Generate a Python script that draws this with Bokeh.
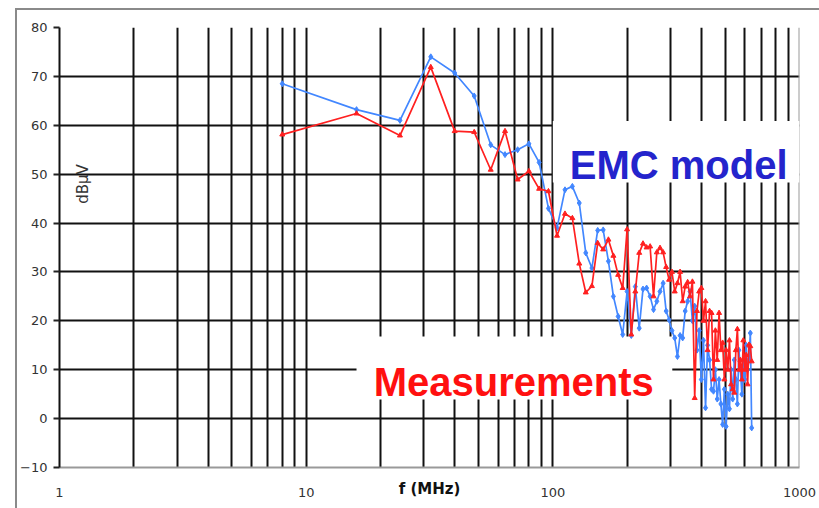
import math
from bokeh.plotting import figure
from bokeh.models import Range1d, FixedTicker, PrintfTickFormatter, Label, ColumnDataSource, InlineStyleSheet
from bokeh.core.properties import value
from bokeh.embed import file_html
from bokeh.resources import INLINE

# ---------------- data ----------------
freq_mhz = [8, 16, 24, 32, 40, 48, 56, 64, 72, 80,
            88, 96, 104, 112, 120, 128, 136, 144, 152, 160,
            168, 176, 184, 192, 200, 208, 216, 224, 232, 240,
            248, 256, 264, 272, 280, 288, 296, 304, 312, 320,
            328, 336, 344, 352, 360, 368, 376, 384, 392, 400,
            408, 416, 424, 432, 440, 448, 456, 464, 472, 480,
            488, 496, 504, 512, 520, 528, 536, 544, 552, 560,
            568, 576, 584, 592, 600, 608, 616, 624, 632, 640]

emc_model = [68.5, 63.2, 61.0, 74.0, 70.7, 66.0, 56.0, 54.0, 55.0, 56.2,
             52.4, 43.0, 39.0, 46.8, 47.5, 44.1, 33.9, 30.8, 38.5, 38.6,
             32.2, 25.0, 20.9, 17.2, 26.0, 17.0, 27.0, 18.5, 26.5, 26.7,
             25.0, 22.3, 24.0, 26.0, 27.7, 22.0, 20.2, 18.0, 16.5, 12.7,
             17.0, 16.5, 22.0, 24.0, 26.0, 20.0, 23.0, 14.0, 18.0, 8.0,
             16.0, 2.2, 15.0, 12.0, 6.0, 5.6, 10.0, 4.0, 8.0, 3.0,
             -1.2, 6.0, -1.6, 5.0, 2.0, 10.0, 4.0, 12.0, 8.0, 3.0,
             14.0, 10.0, 5.0, 12.0, 8.0, 15.0, 10.0, 12.0, 17.5, -1.9]

measurements = [58.1, 62.4, 57.9, 71.9, 58.8, 58.6, 50.9, 58.8, 48.9, 50.6,
                47.0, 46.5, 37.4, 41.9, 41.0, 31.7, 25.8, 27.1, 35.9, 34.6,
                36.6, 33.3, 29.4, 26.7, 38.7, 17.2, 26.0, 33.9, 35.8, 35.0,
                35.2, 25.0, 34.0, 34.9, 34.0, 31.0, 28.4, 30.0, 26.0, 27.7,
                30.0, 24.0, 27.0, 27.9, 25.0, 28.0, 4.2, 22.0, 26.0, 26.7,
                20.0, 24.0, 14.0, 22.0, 21.6, 8.0, 18.0, 12.0, 21.6, 14.0,
                15.5, 8.0, 14.0, 10.0, 16.0, 7.0, 6.0, 5.3, 14.0, 18.3,
                10.0, 12.0, 8.0, 16.0, 10.0, 13.0, 7.0, 15.1, 14.8, 11.7]

x_ticks = [1, 10, 100, 1000]
x_minor_ticks = [2, 3, 4, 5, 6, 7, 8, 9,
                 20, 30, 40, 50, 60, 70, 80, 90,
                 200, 300, 400, 500, 600, 700, 800, 900]
y_ticks = [-10, 0, 10, 20, 30, 40, 50, 60, 70, 80]

series_labels = ["EMC model", "Measurements"]
x_title = "f (MHz)"
y_title = "dBµV"

# ---------------- figure ----------------
FONT = "Liberation Sans"
AXFONT = "DejaVu Sans"
border_css = InlineStyleSheet(css="""
:host::after {
  content: "";
  position: absolute;
  left: 15px;
  top: 8px;
  width: 804px;
  height: 500px;
  box-sizing: border-box;
  border-left: 2px solid #8a8a8a;
  border-top: 2px solid #8a8a8a;
  pointer-events: none;
  z-index: 10;
}
""")

p = figure(width=819, height=508, x_axis_type="log",
           x_range=Range1d(1, 1000), y_range=Range1d(-10, 80),
           output_backend="svg", toolbar_location=None,
           min_border_left=59, min_border_right=20, min_border_top=27, min_border_bottom=41)
p.stylesheets = [border_css]
p.background_fill_color = "white"
p.border_fill_color = "white"
p.outline_line_color = None

# axes
p.xaxis.ticker = FixedTicker(ticks=x_ticks, minor_ticks=x_minor_ticks)
p.xaxis.formatter = PrintfTickFormatter(format="%d")
p.xaxis.major_tick_out = 0
p.xaxis.major_tick_in = 0
p.xaxis.minor_tick_out = 0
p.xaxis.minor_tick_in = 0
p.xaxis.major_label_standoff = 20
p.xaxis.axis_line_color = "#999999"
p.xaxis.axis_line_width = 2
p.xaxis.axis_label = x_title
p.xaxis.axis_label_standoff = -20
p.xaxis.axis_label_text_font = AXFONT
p.xaxis.axis_label_text_font_style = "bold"
p.xaxis.axis_label_text_font_size = "15px"
p.xaxis.axis_label_text_color = "#111111"

p.yaxis.ticker = FixedTicker(ticks=y_ticks)
p.yaxis.major_tick_out = 6
p.yaxis.major_tick_in = 0
p.yaxis.minor_tick_out = 0
p.yaxis.minor_tick_in = 0
p.yaxis.major_tick_line_color = "#222222"
p.yaxis.major_tick_line_width = 2
p.yaxis.axis_line_color = "#111111"
p.yaxis.axis_line_width = 2
p.yaxis.major_label_standoff = 6

for ax in (p.xaxis, p.yaxis):
    ax.major_label_text_font = AXFONT
    ax.major_label_text_font_size = "13px"
    ax.major_label_text_color = "#333333"

# grids
p.xgrid.grid_line_color = "#111111"
p.xgrid.grid_line_width = 2
p.xgrid.minor_grid_line_color = "#111111"
p.xgrid.minor_grid_line_width = 2
p.ygrid.grid_line_color = "#111111"
p.ygrid.grid_line_width = 2

# right frame edge (gray)
p.segment(x0=[1000], y0=[-10], x1=[1000], y1=[80], line_color="#999999", line_width=2)

# white boxes behind the series labels
p.quad(left=[100], right=[1000], bottom=[48.3], top=[60.9],
       fill_color="white", line_color=None)
p.quad(left=[16], right=[305], bottom=[3.9], top=[16.8],
       fill_color="white", line_color=None)

# series
src = ColumnDataSource(dict(f=freq_mhz, emc=emc_model, meas=measurements))
blue = "#4287ff"
red = "#ff2020"
p.line("f", "emc", source=src, line_color=blue, line_width=1.7)
p.scatter("f", "emc", source=src, marker="diamond", size=6, fill_color=blue, line_color=blue)
p.line("f", "meas", source=src, line_color=red, line_width=1.7)
p.scatter("f", "meas", source=src, marker="triangle", size=5, fill_color=red, line_color=red)

# series labels
p.text(x=[323.6], y=[51.9], text=[series_labels[0]], text_font=value(FONT),
       text_font_style="bold", text_font_size="40px", text_color="#2424cc",
       text_align="center", text_baseline="alphabetic")
p.text(x=[69.4], y=[7.4], text=[series_labels[1]], text_font=value(FONT),
       text_font_style="bold", text_font_size="40px", text_color="#ff1010",
       text_align="center", text_baseline="alphabetic")

# y title sits inside the plot area
p.add_layout(Label(x=1.25, y=48, text=y_title, angle=math.pi / 2,
                   text_align="center", text_baseline="middle",
                   text_font=AXFONT, text_font_size="15px", text_color="#333333"))

open("out.html", "w").write(file_html(p, INLINE))
